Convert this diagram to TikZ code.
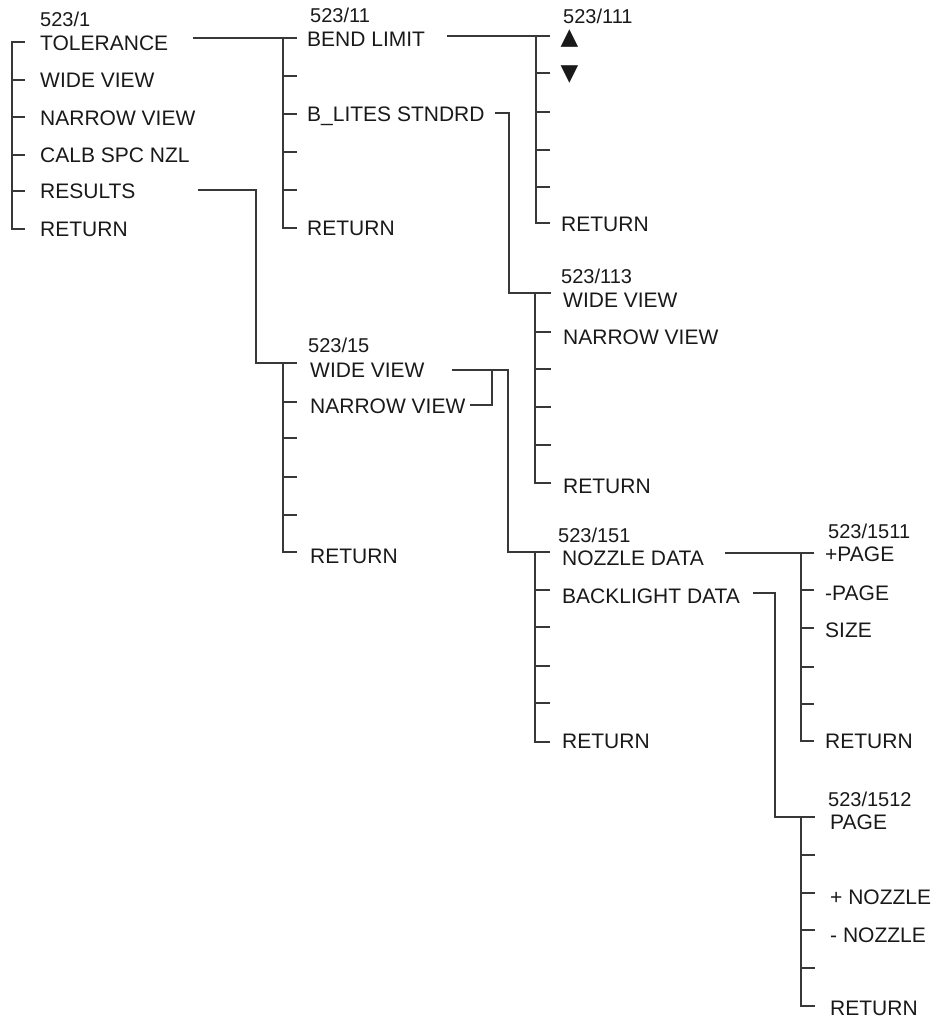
\documentclass[tikz,border=0pt]{standalone}
\usepackage{fontspec}
\setmainfont{Liberation Sans}
\newfontfamily\symfont{DejaVu Sans}
\newcommand\itemfnt{\fontsize{21}{24}\selectfont}
\newcommand\labfnt{\fontsize{20}{23}\selectfont}
\tikzset{
  wire/.style={draw=black!78, line width=1.3pt},
  item/.style={anchor=base west, inner sep=0pt, font=\itemfnt, text=black!90},
  lab/.style={anchor=base west, inner sep=0pt, font=\labfnt, text=black!90},
  sym/.style={anchor=base, inner sep=0pt, text height=13pt, text depth=0pt, font=\symfont\fontsize{23}{25}\selectfont, text=black!90},
}
\begin{document}
\begin{tikzpicture}[x=1pt,y=-1pt]
\useasboundingbox (0,0) rectangle (937,1023);

% ---------- column 523/1 ----------
\node[lab]  (l1)   at (40,26)    {523/1};
\node[item] (tol)  at (40,50)    {TOLERANCE};
\node[item] (wv1)  at (40,87.5)  {WIDE VIEW};
\node[item] (nv1)  at (40,125)   {NARROW VIEW};
\node[item] (cal)  at (40,162.5) {CALB SPC NZL};
\node[item] (res)  at (40,198.5) {RESULTS};
\node[item] (ret1) at (40,236.5) {RETURN};
\draw[wire] (25,42) -- (12,42) -- (12,229) -- (25,229);
\foreach \y in {80,117,155,191} \draw[wire] (12,\y) -- (25,\y);

% ---------- column 523/11 ----------
\node[lab]  (l11)  at (310,22)   {523/11};
\node[item] (bend) at (307,46)   {BEND LIMIT};
\node[item] (blit) at (307,121.5){B\_LITES STNDRD};
\node[item] (ret2) at (307,235.5){RETURN};
\coordinate (s11) at (283,38);
\draw[wire] (297,38) -- (s11) -- (283,228) -- (297,228);
\foreach \y in {76,114,152,190} \draw[wire] (283,\y) -- (297,\y);
\coordinate (ctol) at (193,38);
\draw[wire] (ctol) -- (s11);

% ---------- column 523/111 ----------
\node[lab]  (l111) at (563,23.5) {523/111};
\node[sym]  (up)   at (569.5,44.5) {▲};
\node[sym]  (dn)   at (569.5,80.5) {▼};
\node[item] (ret3) at (561,231)  {RETURN};
\coordinate (s111) at (536,36);
\draw[wire] (550,36) -- (s111) -- (536,223) -- (550,223);
\foreach \y in {73,112,150,187} \draw[wire] (536,\y) -- (550,\y);
\coordinate (cbend) at (447,36);
\draw[wire] (cbend) -- (s111);

% ---------- column 523/113 ----------
\node[lab]  (l113) at (561,283)  {523/113};
\node[item] (wv3)  at (563,307)  {WIDE VIEW};
\node[item] (nv3)  at (563,344)  {NARROW VIEW};
\node[item] (ret4) at (563,493)  {RETURN};
\coordinate (s113) at (535,293);
\draw[wire] (551,293) -- (s113) -- (535,483) -- (551,483);
\foreach \y in {332,369,407,445} \draw[wire] (535,\y) -- (551,\y);
\coordinate (cblit) at (495,113);
\draw[wire] (cblit) -- (509,113) -- (509,293) -- (s113);

% ---------- column 523/15 ----------
\node[lab]  (l15)  at (308,352)  {523/15};
\node[item] (wv5)  at (310,377)  {WIDE VIEW};
\node[item] (nv5)  at (310,413)  {NARROW VIEW};
\node[item] (ret5) at (310,563)  {RETURN};
\coordinate (s15) at (283,363);
\draw[wire] (297,363) -- (s15) -- (283,552) -- (297,552);
\foreach \y in {402,438,477,515} \draw[wire] (283,\y) -- (297,\y);
\coordinate (cres) at (198,190);
\draw[wire] (cres) -- (256,190) -- (256,363) -- (s15);

% ---------- column 523/151 ----------
\node[lab]  (l151) at (558,542)  {523/151};
\node[item] (noz)  at (562,565)  {NOZZLE DATA};
\node[item] (back) at (562,603)  {BACKLIGHT DATA};
\node[item] (ret6) at (562,748)  {RETURN};
\coordinate (s151) at (535,552);
\draw[wire] (550,552) -- (s151) -- (535,742) -- (550,742);
\foreach \y in {590,627,666,703} \draw[wire] (535,\y) -- (550,\y);
\coordinate (cwv5) at (452,370);
\coordinate (cnv5) at (470,405);
\draw[wire] (cwv5) -- (508,370) -- (508,552) -- (s151);
\draw[wire] (cnv5) -- (492,405) -- (492,370);

% ---------- column 523/1511 ----------
\node[lab]  (l1511) at (828,538) {523/1511};
\node[item] (pp)    at (825,561) {+PAGE};
\node[item] (mp)    at (825,600) {-PAGE};
\node[item] (size)  at (825,637) {SIZE};
\node[item] (ret7)  at (825,748) {RETURN};
\coordinate (s1511) at (801,553);
\draw[wire] (814,553) -- (s1511) -- (801,741) -- (814,741);
\foreach \y in {590,628,667,704} \draw[wire] (801,\y) -- (814,\y);
\coordinate (cnoz) at (725,553);
\draw[wire] (cnoz) -- (s1511);

% ---------- column 523/1512 ----------
\node[lab]  (l1512) at (828,806) {523/1512};
\node[item] (page)  at (830,829) {PAGE};
\node[item] (pn)    at (830,904) {+ NOZZLE};
\node[item] (mn)    at (830,942) {- NOZZLE};
\node[item] (ret8)  at (830,1015){RETURN};
\coordinate (s1512) at (801,817);
\draw[wire] (815,817) -- (s1512) -- (801,1006) -- (815,1006);
\foreach \y in {855,893,930,968} \draw[wire] (801,\y) -- (815,\y);
\coordinate (cback) at (753,593);
\draw[wire] (cback) -- (775,593) -- (775,817) -- (s1512);
\end{tikzpicture}
\end{document}
